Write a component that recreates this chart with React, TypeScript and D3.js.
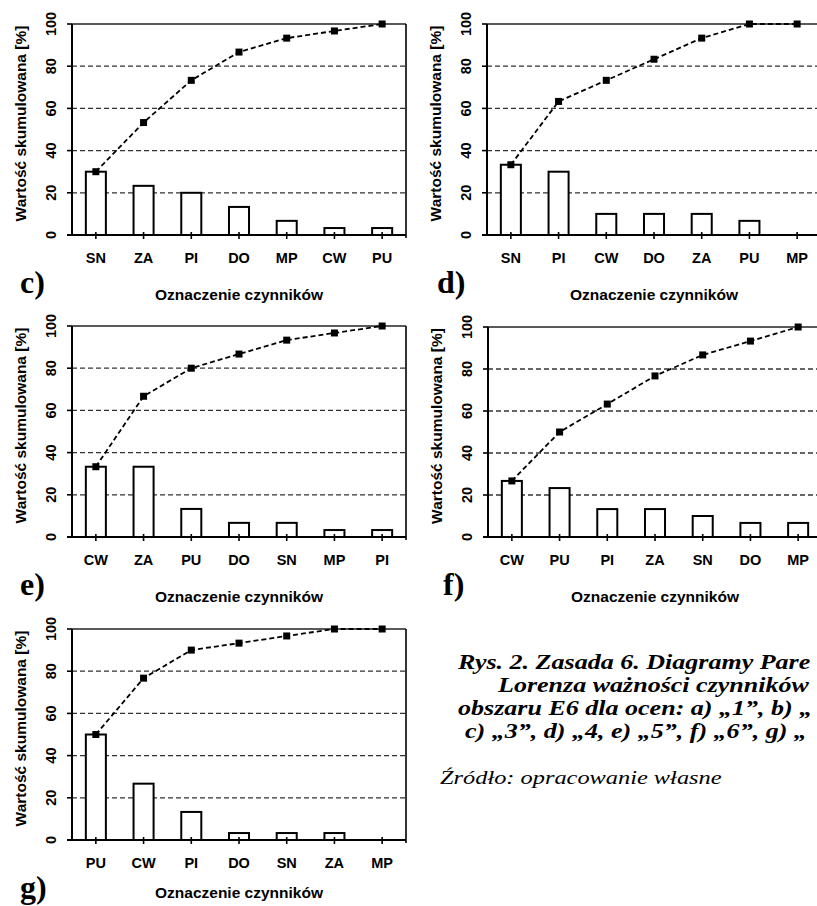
import React from "react";
import * as d3 from "d3";

// ---------- data ----------
const yTickValues = [0, 20, 40, 60, 80, 100];
const gridValues = [20, 40, 60, 80];

const categoriesC = ["SN", "ZA", "PI", "DO", "MP", "CW", "PU"];
const valuesC = [30, 23.3, 20, 13.3, 6.7, 3.3, 3.3];
const cumulativeC = [30, 53.3, 73.3, 86.7, 93.3, 96.7, 100];

const categoriesD = ["SN", "PI", "CW", "DO", "ZA", "PU", "MP"];
const valuesD = [33.3, 30, 10, 10, 10, 6.7, 0];
const cumulativeD = [33.3, 63.3, 73.3, 83.3, 93.3, 100, 100];

const categoriesE = ["CW", "ZA", "PU", "DO", "SN", "MP", "PI"];
const valuesE = [33.3, 33.3, 13.3, 6.7, 6.7, 3.3, 3.3];
const cumulativeE = [33.3, 66.7, 80, 86.7, 93.3, 96.7, 100];

const categoriesF = ["CW", "PU", "PI", "ZA", "SN", "DO", "MP"];
const valuesF = [26.7, 23.3, 13.3, 13.3, 10, 6.7, 6.7];
const cumulativeF = [26.7, 50, 63.3, 76.7, 86.7, 93.3, 100];

const categoriesG = ["PU", "CW", "PI", "DO", "SN", "ZA", "MP"];
const valuesG = [50, 26.7, 13.3, 3.3, 3.3, 3.3, 0];
const cumulativeG = [50, 76.7, 90, 93.3, 96.7, 100, 100];

const panelLetters = ["c)", "d)", "e)", "f)", "g)"];
const yAxisTitle = "Wartość skumulowana [%]";
const xAxisTitle = "Oznaczenie czynników";

const captionLines = [
  "Rys. 2. Zasada 6. Diagramy Pare",
  "Lorenza ważności czynników",
  "obszaru E6 dla ocen: a) „1”, b) „",
  "c) „3”, d) „4, e) „5”, f) „6”, g) „",
];
const sourceText = "Źródło: opracowanie własne";

// ---------- layout ----------
const W = 817;
const H = 906;
const SANS = "'Liberation Sans', Arial, Helvetica, sans-serif";
const SERIF = "'Liberation Serif', 'Times New Roman', serif";

type PanelSpec = {
  categories: string[];
  values: number[];
  cumulative: number[];
  letter: string;
  left: number;
  right: number;
  top: number;
  bottom: number;
  letterX: number;
};

const panels: PanelSpec[] = [
  { categories: categoriesC, values: valuesC, cumulative: cumulativeC, letter: panelLetters[0], left: 72, right: 406, top: 24, bottom: 235, letterX: 20 },
  { categories: categoriesD, values: valuesD, cumulative: cumulativeD, letter: panelLetters[1], left: 487, right: 821, top: 24, bottom: 235, letterX: 437 },
  { categories: categoriesE, values: valuesE, cumulative: cumulativeE, letter: panelLetters[2], left: 72, right: 406, top: 326, bottom: 537, letterX: 20 },
  { categories: categoriesF, values: valuesF, cumulative: cumulativeF, letter: panelLetters[3], left: 488, right: 822, top: 327, bottom: 537, letterX: 443 },
  { categories: categoriesG, values: valuesG, cumulative: cumulativeG, letter: panelLetters[4], left: 72, right: 406, top: 629, bottom: 840, letterX: 20 },
];

function Panel({ p }: { p: PanelSpec }) {
  const pad = 0.58;
  const x = d3
    .scaleBand<string>()
    .domain(p.categories)
    .range([p.left, p.right])
    .paddingInner(pad)
    .paddingOuter(pad / 2);
  const y = d3.scaleLinear().domain([0, 100]).range([p.bottom, p.top]);
  const bw = x.bandwidth();
  const cx = (c: string) => (x(c) as number) + bw / 2;

  const line = d3
    .line<number>()
    .x((_, i) => cx(p.categories[i]))
    .y((d) => y(d));

  const midX = (p.left + p.right) / 2;
  const midY = (p.top + p.bottom) / 2 - 6;
  const titleY = Math.min(p.bottom + 65, 898);

  return (
    <g>
      {gridValues.map((v) => (
        <line
          key={"g" + v}
          x1={p.left}
          x2={p.right}
          y1={y(v)}
          y2={y(v)}
          stroke="#333"
          strokeWidth={1.3}
          strokeDasharray="5,3"
        />
      ))}
      <line x1={p.left} x2={p.right} y1={y(100)} y2={y(100)} stroke="#222" strokeWidth={1.6} />
      <line x1={p.right} x2={p.right} y1={p.top} y2={p.bottom + 3} stroke="#000" strokeWidth={1.6} />

      {p.values.map((v, i) =>
        v > 0 ? (
          <rect
            key={"b" + i}
            x={x(p.categories[i])}
            y={y(v)}
            width={bw}
            height={p.bottom - y(v)}
            fill="#fff"
            stroke="#000"
            strokeWidth={2}
          />
        ) : null
      )}

      <line x1={p.left} x2={p.left} y1={p.top} y2={p.bottom} stroke="#000" strokeWidth={2} />
      <line x1={p.left - 5} x2={p.right} y1={p.bottom} y2={p.bottom} stroke="#000" strokeWidth={2} />
      {yTickValues.map((v) => (
        <g key={"yt" + v}>
          <line x1={p.left - 5} x2={p.left} y1={y(v)} y2={y(v)} stroke="#000" strokeWidth={1.6} />
          <text
            transform={`translate(${p.left - 21},${y(v)}) rotate(-90)`}
            textAnchor="middle"
            dominantBaseline="central"
            fontFamily={SANS}
            fontWeight="bold"
            fontSize={14.5}
            fill="#000"
          >
            {v}
          </text>
        </g>
      ))}
      {p.categories.map((c) => (
        <g key={"xt" + c}>
          <line x1={cx(c)} x2={cx(c)} y1={p.bottom - 3} y2={p.bottom + 4} stroke="#000" strokeWidth={1.6} />
          <text
            x={cx(c)}
            y={p.bottom + 28}
            textAnchor="middle"
            fontFamily={SANS}
            fontWeight="bold"
            fontSize={14.5}
            fill="#000"
          >
            {c}
          </text>
        </g>
      ))}

      <path d={line(p.cumulative) || ""} fill="none" stroke="#000" strokeWidth={1.8} strokeDasharray="5,3" />
      {p.cumulative.map((v, i) => (
        <rect
          key={"m" + i}
          x={cx(p.categories[i]) - 3.5}
          y={y(v) - 3.5}
          width={7}
          height={7}
          fill="#000"
        />
      ))}

      <text
        transform={`translate(${p.left - 52},${midY}) rotate(-90)`}
        textAnchor="middle"
        dominantBaseline="central"
        fontFamily={SANS}
        fontWeight="bold"
        fontSize={15.5}
        fill="#000"
      >
        {yAxisTitle}
      </text>
      <text
        x={midX}
        y={titleY}
        textAnchor="middle"
        fontFamily={SANS}
        fontWeight="bold"
        fontSize={15.5}
        fill="#000"
      >
        {xAxisTitle}
      </text>
      <text
        x={p.letterX}
        y={p.bottom + 58}
        fontFamily={SERIF}
        fontWeight="bold"
        fontSize={32}
        fill="#000"
      >
        {p.letter}
      </text>
    </g>
  );
}

export default function App() {
  const captionX = [458, 498, 458, 465];
  const captionY = [669, 692, 715, 738];
  return (
    <svg
      width={W}
      height={H}
      viewBox={`0 0 ${W} ${H}`}
      style={{ position: "absolute", left: 0, top: 0, background: "#fff" }}
    >
      <defs>
        <clipPath id="pageClip">
          <rect x={0} y={0} width={W} height={H} />
        </clipPath>
      </defs>
      <rect x={0} y={0} width={W} height={H} fill="#fff" />
      <g clipPath="url(#pageClip)">
        {panels.map((p, i) => (
          <Panel key={i} p={p} />
        ))}
        {captionLines.map((t, i) => (
          <text
            key={"cap" + i}
            transform={`translate(${captionX[i]},${captionY[i]}) scale(1.24,1)`}
            fontFamily={SERIF}
            fontWeight="bold"
            fontStyle="italic"
            fontSize={21}
            fill="#000"
          >
            {t}
          </text>
        ))}
        <text
          transform="translate(440,784) scale(1.25,1)"
          fontFamily={SERIF}
          fontStyle="italic"
          fontSize={19.5}
          fill="#000"
        >
          {sourceText}
        </text>
      </g>
    </svg>
  );
}
